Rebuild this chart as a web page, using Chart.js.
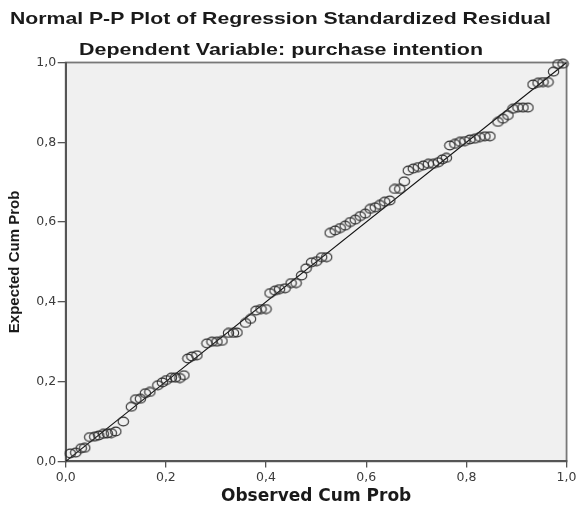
<!DOCTYPE html>
<html>
<head>
<meta charset="utf-8">
<script src="https://cdn.jsdelivr.net/npm/chart.js@4"></script>
<style>
  html, body { margin: 0; padding: 0; background: #ffffff; }
  #wrap { width: 579px; height: 509px; }
</style>
</head>
<body>
<div id="wrap"><canvas id="c" width="579" height="509"></canvas></div>
<script>
// ---- data ----
const chartTitle = 'Normal P-P Plot of Regression Standardized Residual';
const chartSubtitle = 'Dependent Variable: purchase intention';
const xAxisTitle = 'Observed Cum Prob';
const yAxisTitle = 'Expected Cum Prob';

const xTickValues = [0, 0.2, 0.4, 0.6, 0.8, 1];
const xTickLabels = ['0,0', '0,2', '0,4', '0,6', '0,8', '1,0'];
const yTickValues = [0, 0.2, 0.4, 0.6, 0.8, 1];
const yTickLabels = ['0,0', '0,2', '0,4', '0,6', '0,8', '1,0'];

const observedCumProb = [
  0.009, 0.020, 0.031, 0.038, 0.048, 0.058, 0.066, 0.075, 0.083, 0.091,
  0.100, 0.115, 0.131, 0.140, 0.149, 0.159, 0.168, 0.184, 0.193, 0.201,
  0.211, 0.219, 0.228, 0.236, 0.244, 0.252, 0.262, 0.282, 0.292, 0.302,
  0.312, 0.325, 0.335, 0.342, 0.359, 0.369, 0.380, 0.390, 0.400, 0.408,
  0.418, 0.427, 0.438, 0.450, 0.460, 0.471, 0.480, 0.491, 0.501, 0.511,
  0.521, 0.528, 0.538, 0.548, 0.558, 0.568, 0.578, 0.588, 0.598, 0.608,
  0.618, 0.627, 0.637, 0.647, 0.657, 0.667, 0.676, 0.684, 0.694, 0.704,
  0.714, 0.724, 0.734, 0.744, 0.752, 0.760, 0.767, 0.777, 0.787, 0.797,
  0.807, 0.817, 0.827, 0.837, 0.847, 0.863, 0.873, 0.883, 0.893, 0.903,
  0.913, 0.923, 0.933, 0.943, 0.953, 0.963, 0.974, 0.983, 0.993
];
const expectedCumProb = [
  0.020, 0.022, 0.033, 0.034, 0.061, 0.062, 0.065, 0.069, 0.070, 0.071,
  0.075, 0.100, 0.137, 0.156, 0.157, 0.171, 0.174, 0.191, 0.198, 0.204,
  0.210, 0.210, 0.209, 0.216, 0.258, 0.263, 0.266, 0.296, 0.300, 0.300,
  0.302, 0.322, 0.322, 0.323, 0.347, 0.357, 0.378, 0.382, 0.382, 0.422,
  0.428, 0.432, 0.434, 0.447, 0.447, 0.466, 0.484, 0.499, 0.502, 0.512,
  0.512, 0.573, 0.579, 0.585, 0.591, 0.600, 0.606, 0.615, 0.621, 0.633,
  0.637, 0.643, 0.651, 0.654, 0.683, 0.683, 0.702, 0.729, 0.734, 0.738,
  0.742, 0.746, 0.746, 0.750, 0.757, 0.761, 0.792, 0.796, 0.801, 0.803,
  0.807, 0.809, 0.813, 0.815, 0.815, 0.851, 0.859, 0.868, 0.884, 0.887,
  0.887, 0.887, 0.945, 0.949, 0.951, 0.951, 0.977, 0.996, 0.997
];
const refLineX = [0, 1];
const refLineY = [0, 1];

// ---- build library structures ----
const residualPoints = observedCumProb.map((x, i) => ({ x: x, y: expectedCumProb[i] }));
const refLinePoints = refLineX.map((x, i) => ({ x: x, y: refLineY[i] }));

// slightly wide open marker (the reference image is stretched horizontally)
const marker = document.createElement('canvas');
marker.width = 13; marker.height = 11;
(function () {
  const m = marker.getContext('2d');
  m.strokeStyle = '#2e2e2e';
  m.lineWidth = 1.1;
  m.beginPath();
  m.ellipse(6.5, 5.5, 5.2, 4.4, 0, 0, Math.PI * 2);
  m.stroke();
})();

const framePlugin = {
  id: 'framePlugin',
  beforeDraw(chart) {
    const { ctx, chartArea: a } = chart;
    ctx.save();
    ctx.fillStyle = '#f0f0f0';
    ctx.fillRect(a.left, a.top, a.right - a.left, a.bottom - a.top);
    ctx.strokeStyle = '#787878';
    ctx.lineWidth = 1.8;
    ctx.strokeRect(a.left, a.top, a.right - a.left, a.bottom - a.top);
    ctx.restore();
  },
  afterDraw(chart) {
    const ctx = chart.ctx;
    function stretched(text, cx, baseline, width) {
      ctx.save();
      ctx.font = 'bold 17px "Liberation Sans", Arial, sans-serif';
      ctx.fillStyle = '#1a1a1a';
      ctx.textAlign = 'center';
      ctx.textBaseline = 'alphabetic';
      const w = ctx.measureText(text).width;
      ctx.translate(cx, baseline);
      ctx.scale(width / w, 1);
      ctx.fillText(text, 0, 0);
      ctx.restore();
    }
    stretched(chartTitle, 280.5, 23.5, 541);
    stretched(chartSubtitle, 281, 55, 404);
  }
};

new Chart(document.getElementById('c'), {
  type: 'scatter',
  data: {
    datasets: [
      {
        label: 'Observed',
        data: residualPoints,
        showLine: false,
        pointStyle: marker,
        pointRadius: 5,
        pointHoverRadius: 5,
        clip: false,
        order: 1
      },
      {
        label: 'Reference',
        data: refLinePoints,
        showLine: true,
        borderColor: '#111111',
        borderWidth: 1.1,
        pointRadius: 0,
        fill: false,
        order: 2
      }
    ]
  },
  options: {
    responsive: false,
    animation: false,
    events: [],
    layout: { padding: { top: 62.5, right: 12, bottom: 0, left: 0 } },
    plugins: {
      legend: { display: false },
      tooltip: { enabled: false },
      title: { display: false }
    },
    scales: {
      x: {
        type: 'linear',
        min: 0, max: 1,
        afterFit(s) { s.height = 47.6; },
        afterBuildTicks(s) { s.ticks = xTickValues.map(v => ({ value: v })); },
        ticks: {
          autoSkip: false,
          maxRotation: 0,
          padding: 2.5,
          color: '#3c3c3c',
          font: { family: '"DejaVu Sans", sans-serif', size: 12.5 },
          callback: (v, i) => xTickLabels[i]
        },
        grid: { drawOnChartArea: false, drawTicks: true, tickLength: 6, color: '#555555', lineWidth: 1.3 },
        border: { display: true, color: '#555555', width: 2 },
        title: {
          display: true,
          text: xAxisTitle,
          color: '#1a1a1a',
          font: { family: '"DejaVu Sans", sans-serif', size: 17, weight: 'bold' },
          padding: { top: 0, bottom: 2 }
        }
      },
      y: {
        type: 'linear',
        min: 0, max: 1,
        afterFit(s) { s.width = 65.7; },
        afterBuildTicks(s) { s.ticks = yTickValues.map(v => ({ value: v })); },
        ticks: {
          autoSkip: false,
          padding: 1.5,
          color: '#3c3c3c',
          font: { family: '"DejaVu Sans", sans-serif', size: 12.5 },
          callback: (v, i) => yTickLabels[i]
        },
        grid: { drawOnChartArea: false, drawTicks: true, tickLength: 8, color: '#555555', lineWidth: 1.3 },
        border: { display: true, color: '#555555', width: 2 },
        title: {
          display: true,
          text: yAxisTitle,
          color: '#1a1a1a',
          font: { family: '"Liberation Sans", Arial, sans-serif', size: 15, weight: 'bold' },
          padding: { top: 6, bottom: 0 }
        }
      }
    }
  },
  plugins: [framePlugin]
});
</script>
</body>
</html>
